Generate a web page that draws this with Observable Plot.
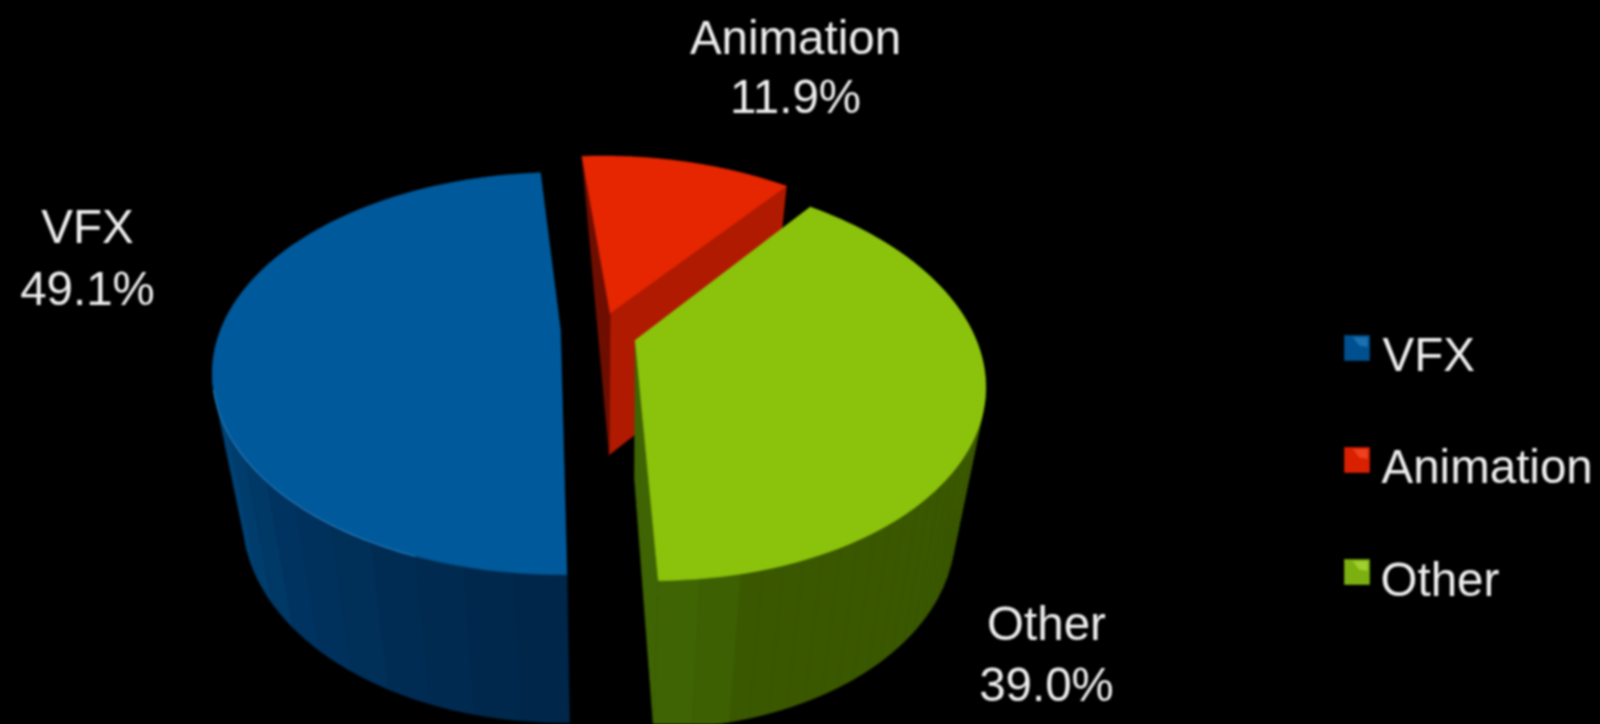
<!DOCTYPE html>
<html>
<head>
<meta charset="utf-8">
<style>
html,body{margin:0;padding:0;background:#000;overflow:hidden}
svg{display:block}
</style>
<script src="https://cdn.jsdelivr.net/npm/d3@7"></script>
<script src="https://cdn.jsdelivr.net/npm/@observablehq/plot@0.6"></script>
</head>
<body>
<script>
// Data
const categories = ["VFX", "Animation", "Other"];
const shares = [49.1, 11.9, 39.0];
const topColors = ["#00599a", "#e52600", "#8bc20c"];
const sideColors = ["#00284c", "#b01a00", "#3a5800"];
const innerColors = ["#00284c", "#6e0e00", "#3f6404"];
const swatchLight = ["#1a70b0", "#f04020", "#a0d030"];
const swatchBase = ["#00508f", "#d92000", "#7cb010"];
const blueBands = ["#00264a","#00284d","#002a50","#002c54","#002f58","#00315c","#003360","#003866","#003d6c","#004274","#00477c","#004c84"];
const greenBands = ["#3f6404","#3d6002"];

// Layout of the perspective disc
const startAngle = -4.1;
const boundaryNudge = 1.2;
const topFace = {cx: 560, cy: 330, a: 340, b: 191.8, k: 0.214};
const baseFace = {cx: 563, cy: 474, a: 313, b: 195, k: 0.214};
const explode = [[0, 0], [0.15, -0.13], [0.21, 0.02]];
const apexTopNudge = [[0, 0], [0, 7], [3, 6]];
const apexBaseNudge = [[0, 0], [0, 5], [5, 0]];

function project(face, deg, r, off) {
  const t = deg * Math.PI / 180;
  const u = r * Math.sin(t) + off[0];
  const v = -r * Math.cos(t) + off[1];
  const w = 1 - face.k * v;
  return [face.cx + face.a * u / w, face.cy + face.b * v / w];
}
function apex(face, i) {
  const p = project(face, 0, 0, explode[i]);
  const n = face === topFace ? apexTopNudge[i] : apexBaseNudge[i];
  return [p[0] + n[0], p[1] + n[1]];
}

// Angular extents from the shares
const sweep = shares.map(s => s * 3.6);
const redFrom = startAngle, redEnd = redFrom + sweep[1];
const redTo = redEnd + boundaryNudge, greenFrom = redTo;
const greenTo = redEnd + sweep[2];
const blueFrom = greenTo, blueTo = blueFrom + sweep[0];

const polys = [];
let pid = 0;
function addPoly(pts, fill) {
  const id = pid++;
  for (const [x, y] of [...pts, pts[0]]) polys.push({x, y, id, fill});
}
function arc(face, from, to, off, n = 40) {
  return d3.range(n + 1).map(i => project(face, from + (to - from) * i / n, 1, off));
}
function wedge(i, from, to, fill) {
  addPoly([apex(topFace, i), ...arc(topFace, from, to, explode[i], 80)], fill);
}
// Bands are painted from the back of the disc towards the front
function wall(from, to, off, bands) {
  const step = (to - from) / bands.length;
  const n = Math.ceil(Math.abs(step));
  for (let i = bands.length - 1; i >= 0; i--) {
    const a0 = from + i * step, a1 = a0 + step;
    addPoly([...arc(topFace, a0, a1, off, n), ...arc(baseFace, a1, a0, off, n)], bands[i]);
  }
}
const repeated = (c, k) => d3.range(k).map(() => c);

// Blue
wall(262, 300, explode[0], repeated(blueBands[blueBands.length - 1], 14));
wall(blueFrom, 262, explode[0], blueBands);
wedge(0, blueFrom, blueTo, topColors[0]);
// Red
const rOff = explode[1];
addPoly([apex(topFace, 1), project(topFace, redTo, 1, rOff), project(baseFace, redTo, 1, rOff), apex(baseFace, 1)], sideColors[1]);
addPoly([project(topFace, redFrom, 1, rOff), apex(topFace, 1), apex(baseFace, 1)], innerColors[1]);
wedge(1, redFrom, redTo, topColors[1]);
// Green
const gOff = explode[2];
addPoly([apex(topFace, 2), project(topFace, greenTo, 1, gOff), project(baseFace, greenTo, 1, gOff), apex(baseFace, 2)], innerColors[2]);
wall(168, 60, gOff, repeated(sideColors[2], 36).reverse());
wall(greenTo, 168, gOff, greenBands);
wedge(2, greenFrom, greenTo, topColors[2]);

// Pale rim on the front of the blue slice
const rim = arc(topFace, 200, 253, explode[0], 60).map(([x, y]) => ({x, y}));

// Legend
const legendX = 1344, legendSize = 25, legendY = [335, 447, 559], legendTextX = [1382, 1381, 1380], legendBaseline = [370, 482, 595];
categories.forEach((c, i) => {
  const y = legendY[i], x = legendX, s = legendSize;
  addPoly([[x, y], [x + s, y], [x + s, y + s], [x, y + s]], swatchBase[i]);
  addPoly([[x + 9, y + 2], [x + s - 2, y + 2], [x + s - 2, y + 11], [x + 15, y + 10]], swatchLight[i]);
});
const legendRows = categories.map((c, i) => ({c, x: legendTextX[i], y: legendBaseline[i]}));

// Data labels
const labelX = [87, 795, 1046];
const nameBaseline = [242, 53, 639], valueBaseline = [304, 112, 700];
const labelRows = categories.flatMap((c, i) => [
  {text: c, x: labelX[i], y: nameBaseline[i]},
  {text: shares[i].toFixed(1) + "%", x: labelX[i], y: valueBaseline[i]}
]);

const font = "'Liberation Sans', Arial, sans-serif";
const chart = Plot.plot({
  width: 1600, height: 724, margin: 0,
  x: {domain: [0, 1600], range: [0, 1600], axis: null},
  y: {domain: [0, 724], range: [0, 724], axis: null},
  color: {type: "identity"},
  style: {background: "#000", filter: "blur(0.9px)"},
  marks: [
    Plot.line(polys, {x: "x", y: "y", z: "id", fill: "fill", stroke: "fill", strokeWidth: 0.6}),
    Plot.line(rim, {x: "x", y: "y", stroke: "#2f86c6", strokeWidth: 1.2, strokeOpacity: 0.8}),
    Plot.text(labelRows, {x: "x", y: "y", text: "text", fill: "#eeeeee", fontSize: 47.5, fontFamily: font, textAnchor: "middle", lineAnchor: "bottom"}),
    Plot.text(legendRows, {x: "x", y: "y", text: "c", fill: "#eeeeee", fontSize: 47.5, fontFamily: font, textAnchor: "start", lineAnchor: "bottom"})
  ]
});
document.body.appendChild(chart);
</script>
</body>
</html>
